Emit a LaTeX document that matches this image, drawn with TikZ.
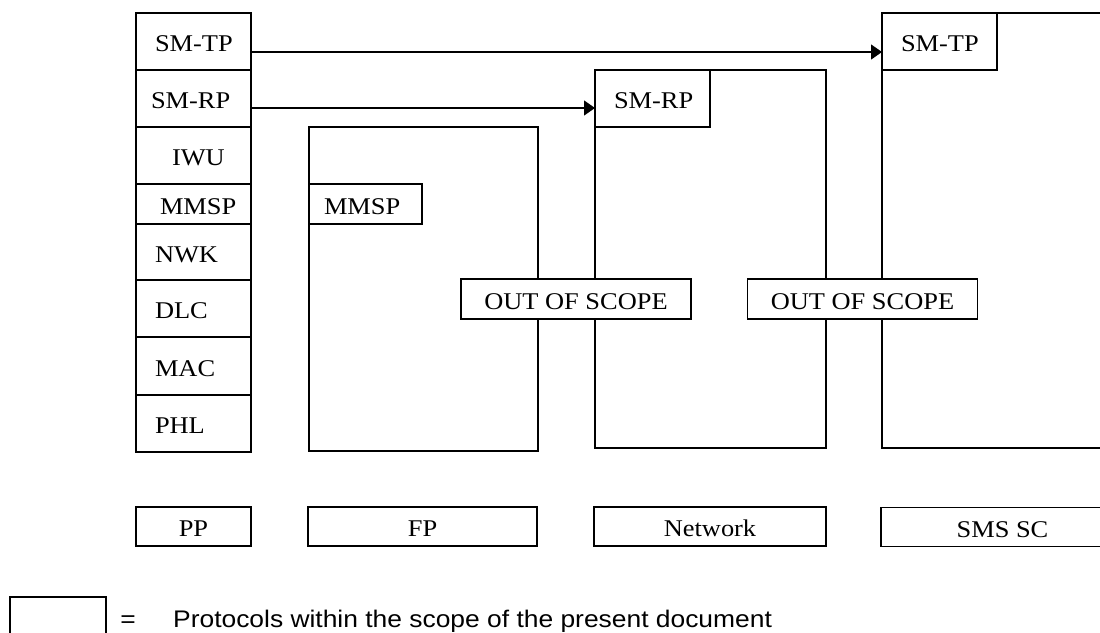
\documentclass[tikz,border=0pt]{standalone}
\usepackage{fontspec}
\setmainfont{Liberation Serif}[FakeStretch=1.1]
\newfontfamily\keyfont{Liberation Sans}[FakeStretch=1.1]
\usetikzlibrary{positioning,arrows.meta}
\tikzset{
  box/.style={draw, line width=1.6pt, outer sep=0pt, inner sep=0pt},
  layer/.style={box, inner xsep=19pt, text width=77pt, align=left,
    minimum height=57pt, text height=20pt, text depth=0pt},
  entity/.style={box},
  tag/.style={box, minimum height=39pt, text height=20pt, text depth=0pt},
  outscope/.style={box, fill=white, minimum width=230pt, minimum height=40pt,
    text height=20pt, text depth=0pt},
  msg/.style={line width=1.3pt, -{Triangle[length=11pt,width=15pt]}},
  keytext/.style={inner sep=0pt, font=\keyfont\fontsize{24pt}{28pt}\selectfont}
}
\begin{document}
\begin{tikzpicture}[x=1pt,y=-1pt,font=\fontsize{24pt}{28pt}\selectfont]
  \useasboundingbox (0,0) rectangle (1100,632);
  \clip (0,0) rectangle (1100,632);

  % PP protocol stack
  \node[layer] (pptp) at (193.5,41.5) {\mbox{SM-TP}};
  \node[layer, below=0pt of pptp] (pprp) {\hspace*{-4pt}\mbox{SM-RP}};
  \node[layer, below=0pt of pprp] (iwu) {\hspace*{17pt}IWU};
  \node[layer, below=0pt of iwu, minimum height=40pt] (ppmmsp) {\hspace*{5pt}MMSP};
  \node[layer, below=0pt of ppmmsp, minimum height=56pt] (nwk) {NWK};
  \node[layer, below=0pt of nwk] (dlc) {DLC};
  \node[layer, below=0pt of dlc, minimum height=58pt] (mac) {MAC};
  \node[layer, below=0pt of mac] (phl) {PHL};

  % FP
  \node[entity, minimum width=229pt, minimum height=324pt] (fpbox) at (423.5,289) {};
  \node[layer, anchor=north west, minimum height=40pt, inner xsep=15pt,
    text width=83pt] (fpmmsp) at ([yshift=-57pt]fpbox.north west) {MMSP};

  % Network
  \node[entity, minimum width=231pt, minimum height=378pt] (netbox) at (710.5,259) {};
  \node[layer, anchor=north west] (netrp) at (netbox.north west) {\mbox{SM-RP}};

  % SMS SC
  \node[entity, minimum width=242pt, minimum height=435pt] (scbox) at (1003,230.5) {};
  \node[layer, anchor=north west] (sctp) at (scbox.north west) {\mbox{SM-TP}};

  \node[outscope] (oosa) at (576,299) {OUT OF SCOPE};
  \node[outscope] (oosb) at (862.5,299) {OUT OF SCOPE};

  % entity names
  \node[tag, minimum width=115pt] (pplbl) at (193.5,526.5) {PP};
  \node[tag, minimum width=229pt] (fplbl) at (422.5,526.5) {FP};
  \node[tag, minimum width=232pt] (netlbl) at (710,526.5) {Network};
  \node[tag, minimum width=243pt] (sclbl) at (1002.5,527) {SMS SC};

  % peer protocols
  \draw[msg] ([yshift=-10.5pt]pptp.east) -- ([yshift=-10.5pt]sctp.west);
  \draw[msg] ([yshift=-9.5pt]pprp.east) -- ([yshift=-9.5pt]netrp.west);

  % key
  \node[box, minimum width=96pt, minimum height=46pt] (keybox) at (58,620) {};
  \node[keytext, anchor=base] (keyeq) at (128,627) {=};
  \node[keytext, anchor=base west] (keytxt) at (173,627)
    {Protocols within the scope of the present document};
\end{tikzpicture}
\end{document}
